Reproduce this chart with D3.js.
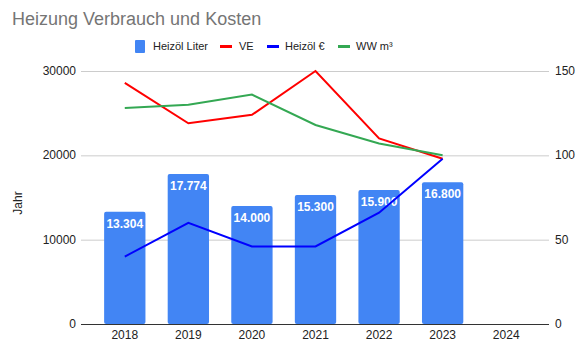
<!DOCTYPE html>
<html>
<head>
<meta charset="utf-8">
<script src="https://cdn.jsdelivr.net/npm/d3@7"></script>
<style>
  body { margin: 0; background: #fff; }
  svg { font-family: Arial, "Liberation Sans", sans-serif; }
</style>
</head>
<body>
<svg width="584" height="349"></svg>
<script>
var years = ["2018", "2019", "2020", "2021", "2022", "2023", "2024"];
var heizoelLiter = [13304, 17774, 14000, 15300, 15900, 16800, null];
var ve = [143, 119, 124, 150, 110, 98, null];
var heizoelEuro = [40, 60, 46, 46, 66, 98, null];
var wwM3 = [128, 130, 136, 118, 107, 100, null];
var leftTicks = [0, 10000, 20000, 30000];
var rightTicks = [0, 50, 100, 150];

var svg = d3.select("svg");
var deFormat = d3.formatLocale({ decimal: ",", thousands: ".", grouping: [3], currency: ["", " €"] }).format(",d");

var plotLeft = 81, plotRight = 549, plotTop = 71, plotBottom = 324;

var x = d3.scaleBand().domain(years).range([93, 538]).paddingInner(0.35).paddingOuter(0.175);
var yL = d3.scaleLinear().domain([0, 30000]).range([plotBottom, plotTop]);
var yR = d3.scaleLinear().domain([0, 150]).range([plotBottom, plotTop]);

// title
svg.append("text")
    .attr("x", 12).attr("y", 25)
    .attr("fill", "#757575")
    .style("font-size", "18px")
    .text("Heizung Verbrauch und Kosten");

// gridlines
svg.selectAll(".grid")
    .data(leftTicks.filter(function(d) { return d > 0; }))
    .enter().append("line")
    .attr("x1", plotLeft).attr("x2", plotRight)
    .attr("y1", function(d) { return yL(d) + 0.5; })
    .attr("y2", function(d) { return yL(d) + 0.5; })
    .attr("stroke", "#cccccc");

// left axis labels
svg.selectAll(".ltick")
    .data(leftTicks)
    .enter().append("text")
    .attr("x", 76).attr("y", function(d) { return yL(d) + 4; })
    .attr("text-anchor", "end")
    .attr("fill", "#222")
    .style("font-size", "12px")
    .text(function(d) { return d; });

// right axis labels
svg.selectAll(".rtick")
    .data(rightTicks)
    .enter().append("text")
    .attr("x", 555).attr("y", function(d) { return yR(d) + 4; })
    .attr("fill", "#222")
    .style("font-size", "12px")
    .text(function(d) { return d; });

// y title
svg.append("text")
    .attr("transform", "translate(22,203) rotate(-90)")
    .attr("text-anchor", "middle")
    .attr("fill", "#222")
    .style("font-size", "12px")
    .text("Jahr");

// bars
var barData = years.map(function(y, i) { return { year: y, value: heizoelLiter[i] }; })
    .filter(function(d) { return d.value != null; });

svg.selectAll(".bar")
    .data(barData)
    .enter().append("rect")
    .attr("x", function(d) { return x(d.year); })
    .attr("width", x.bandwidth())
    .attr("y", function(d) { return yL(d.value); })
    .attr("height", function(d) { return plotBottom - yL(d.value); })
    .attr("rx", 2)
    .attr("fill", "#4285f4");

svg.selectAll(".barlabel")
    .data(barData)
    .enter().append("text")
    .attr("x", function(d) { return x(d.year) + x.bandwidth() / 2; })
    .attr("y", function(d) { return yL(d.value) + 16; })
    .attr("text-anchor", "middle")
    .attr("fill", "#fff")
    .style("font-size", "12px")
    .style("font-weight", "bold")
    .text(function(d) { return deFormat(d.value); });

// baseline
svg.append("line")
    .attr("x1", plotLeft).attr("x2", plotRight)
    .attr("y1", plotBottom + 0.5).attr("y2", plotBottom + 0.5)
    .attr("stroke", "#333");

// x labels
svg.selectAll(".xlabel")
    .data(years)
    .enter().append("text")
    .attr("x", function(d) { return x(d) + x.bandwidth() / 2; })
    .attr("y", 339)
    .attr("text-anchor", "middle")
    .attr("fill", "#222")
    .style("font-size", "12px")
    .text(function(d) { return d; });

// lines
var line = d3.line()
    .defined(function(d) { return d != null; })
    .x(function(d, i) { return x(years[i]) + x.bandwidth() / 2; })
    .y(function(d) { return yR(d); });

var series = [
    { name: "VE", values: ve, color: "#ff0000" },
    { name: "Heizöl €", values: heizoelEuro, color: "#0000ff" },
    { name: "WW m³", values: wwM3, color: "#34a853" }
];

// draw order: VE, WW, Heizöl € on top
svg.selectAll(".series")
    .data([series[0], series[2], series[1]])
    .enter().append("path")
    .attr("d", function(s) { return line(s.values); })
    .attr("fill", "none")
    .attr("stroke", function(s) { return s.color; })
    .attr("stroke-width", 2);

// legend
var legend = svg.append("g").style("font-size", "11px");
legend.append("rect").attr("x", 135).attr("y", 40).attr("width", 10).attr("height", 13).attr("rx", 1).attr("fill", "#4285f4");
legend.append("text").attr("x", 153).attr("y", 50).attr("fill", "#222").text("Heizöl Liter");
var legItems = [
    { s: series[0], lx: 220, tx: 239 },
    { s: series[1], lx: 267, tx: 285 },
    { s: series[2], lx: 338, tx: 356 }
];
legItems.forEach(function(d) {
    legend.append("rect").attr("x", d.lx).attr("y", 45).attr("width", 12).attr("height", 3).attr("fill", d.s.color);
    legend.append("text").attr("x", d.tx).attr("y", 50).attr("fill", "#222").text(d.s.name);
});
</script>
</body>
</html>
